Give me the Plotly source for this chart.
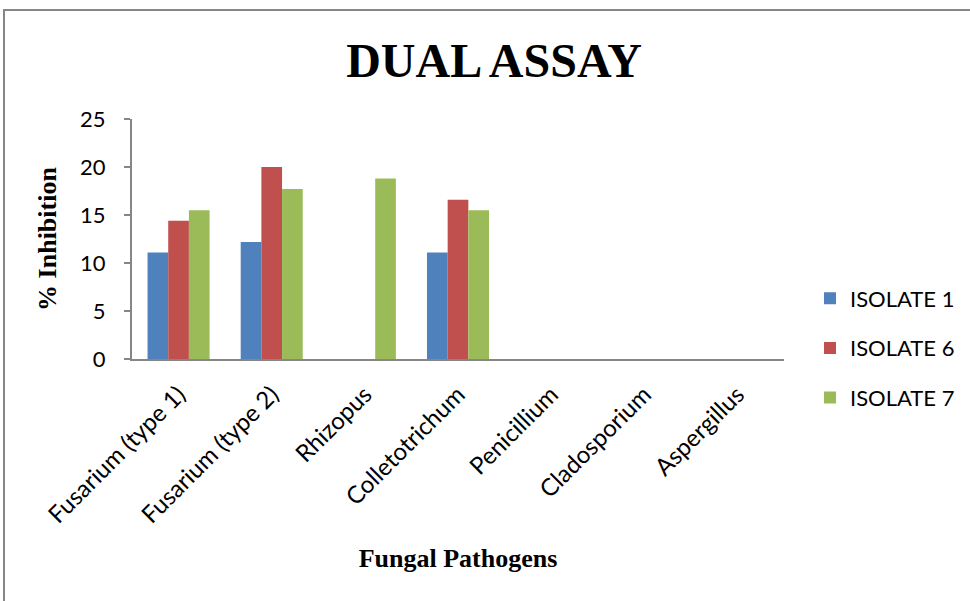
import plotly.graph_objects as go

categories = ["Fusarium (type 1)", "Fusarium (type 2)", "Rhizopus", "Colletotrichum",
              "Penicillium", "Cladosporium", "Aspergillus"]
isolate1 = [11.1, 12.2, 0, 11.1, 0, 0, 0]
isolate6 = [14.4, 20.0, 0, 16.6, 0, 0, 0]
isolate7 = [15.5, 17.7, 18.8, 15.5, 0, 0, 0]
y_ticks = [0, 5, 10, 15, 20, 25]

W, H = 970, 601
L, R, T, B = 132, 186, 119, 242
PW, PH = W - L - R, H - T - B

fig = go.Figure()
for name, vals, col in [("ISOLATE 1", isolate1, "#4F81BD"),
                        ("ISOLATE 6", isolate6, "#C0504D"),
                        ("ISOLATE 7", isolate7, "#9BBB59")]:
    fig.add_trace(go.Bar(x=categories, y=vals, name=name, marker_color=col,
                         marker_line_width=0, legendgroup=name))

tick_font = dict(family="Lato", size=22, color="black")
fig.update_layout(
    width=W, height=H,
    margin=dict(l=L, r=R, t=T, b=B, autoexpand=False),
    paper_bgcolor="white", plot_bgcolor="white",
    barmode="group", bargap=0.334, bargroupgap=0,
    title=dict(text="<b>DUAL ASSAY</b>", x=494 / W, xanchor="center", xref="container",
               y=1 - 60 / H, yanchor="middle",
               font=dict(family="Liberation Serif", size=48, color="black")),
    legend=dict(x=(810 - L) / PW, xanchor="left",
                y=(H - B - 348) / PH, yanchor="middle",
                font=dict(family="Lato", size=22, color="black"),
                tracegroupgap=18, bgcolor="rgba(0,0,0,0)"),
    xaxis=dict(showline=True, linecolor="#868686", linewidth=2, ticks="",
               tickangle=-45, tickfont=dict(family="Lato", size=24, color="black"),
               automargin=False, ticklabelstandoff=10,
               title=dict(text="<b>Fungal Pathogens</b>", standoff=22,
                          font=dict(family="Liberation Serif", size=26, color="black"))),
    yaxis=dict(range=[0, 25], tickvals=y_ticks, showline=True, linecolor="#868686",
               linewidth=2, ticks="outside", ticklen=6, tickcolor="#868686",
               tickwidth=2, showgrid=False, zeroline=False, automargin=False,
               tickfont=tick_font, ticklabelstandoff=14,
               title=dict(text="<b>% Inhibition</b>", standoff=16,
                          font=dict(family="Liberation Serif", size=26, color="black"))),
    shapes=[dict(type="rect", xref="paper", yref="paper",
                 x0=(4 - L) / PW, x1=(W + 10 - L) / PW,
                 y0=-(B + 10) / PH, y1=1 + (T - 10) / PH,
                 line=dict(color="#868686", width=2), fillcolor="rgba(0,0,0,0)")],
)
fig.write_html("out.html", config={"displayModeBar": False},
               post_script="document.body.style.margin='0';")
